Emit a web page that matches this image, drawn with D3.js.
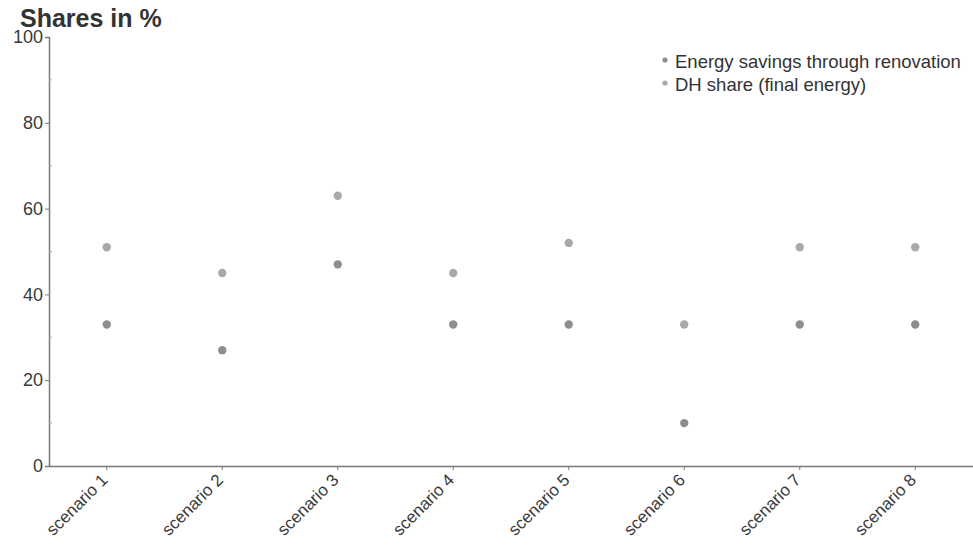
<!DOCTYPE html>
<html><head><meta charset="utf-8">
<script src="https://cdn.jsdelivr.net/npm/d3@7"></script>
<style>body{margin:0;background:#fff;} svg{display:block;font-family:"Liberation Sans",Arial,sans-serif;}</style>
</head><body>
<svg id="c" width="973" height="545"></svg>
<script>
const categories = ["scenario 1","scenario 2","scenario 3","scenario 4","scenario 5","scenario 6","scenario 7","scenario 8"];
const seriesNames = ["Energy savings through renovation","DH share (final energy)"];
const energySavings = [33, 27, 47, 33, 33, 10, 33, 33];
const dhShare = [51, 45, 63, 45, 52, 33, 51, 51];
const yTicks = [0, 20, 40, 60, 80, 100];
const yMinorTicks = [10, 30, 50, 70, 90];

const svg = d3.select("#c");
const m = {left: 49, right: 973, top: 37, bottom: 466};
const x = d3.scaleBand().domain(categories).range([m.left, m.right]);
const y = d3.scaleLinear().domain([0, 100]).range([m.bottom, m.top]);
const axisCol = "#7a7a7a";

// y axis
const ya = svg.append("g").attr("transform", `translate(${m.left},0)`)
  .call(d3.axisLeft(y).tickValues(yTicks).tickSize(4).tickPadding(2));
ya.select(".domain").attr("stroke", axisCol).attr("stroke-width", 1.5);
ya.selectAll(".tick line").attr("stroke", axisCol);
ya.selectAll(".tick text").attr("fill", "#3a3a3a").style("font-size", "18px");
svg.append("g").selectAll("line").data(yMinorTicks).join("line")
  .attr("x1", m.left).attr("x2", m.left + 3)
  .attr("y1", d => y(d)).attr("y2", d => y(d))
  .attr("stroke", "#aaa");

// x axis
const xa = svg.append("g").attr("transform", `translate(0,${m.bottom})`)
  .call(d3.axisBottom(x).tickSize(4).tickSizeOuter(0).tickPadding(4));
xa.select(".domain").attr("stroke", axisCol).attr("stroke-width", 1.5);
xa.selectAll(".tick line").attr("stroke", axisCol);
xa.selectAll(".tick text").attr("fill", "#3a3a3a").style("font-size", "17px")
  .attr("text-anchor", "end").attr("y", 0).attr("dy", 0)
  .attr("transform", "translate(2,15) rotate(-45)");

// title
svg.append("text").attr("x", 20).attr("y", 27).text("Shares in %")
  .attr("fill", "#333").style("font-size", "25px").style("font-weight", "bold");

// points
const cols = ["#8e8e8e", "#a9a9a9"];
const series = [energySavings, dhShare];
series.forEach((vals, i) => {
  svg.append("g").selectAll("circle").data(vals).join("circle")
    .attr("cx", (d, j) => x(categories[j]) + x.bandwidth() / 2)
    .attr("cy", d => y(d))
    .attr("r", 4.2)
    .attr("fill", cols[i]);
});

// legend
const lg = svg.append("g");
seriesNames.forEach((n, i) => {
  const yy = 62 + i * 23;
  lg.append("circle").attr("cx", 665).attr("cy", yy - 2).attr("r", 2.6).attr("fill", cols[i]);
  lg.append("text").attr("x", 675).attr("y", yy).attr("dy", "0.35em").text(n)
    .attr("fill", "#333").style("font-size", "18.5px");
});
</script>
</body></html>
